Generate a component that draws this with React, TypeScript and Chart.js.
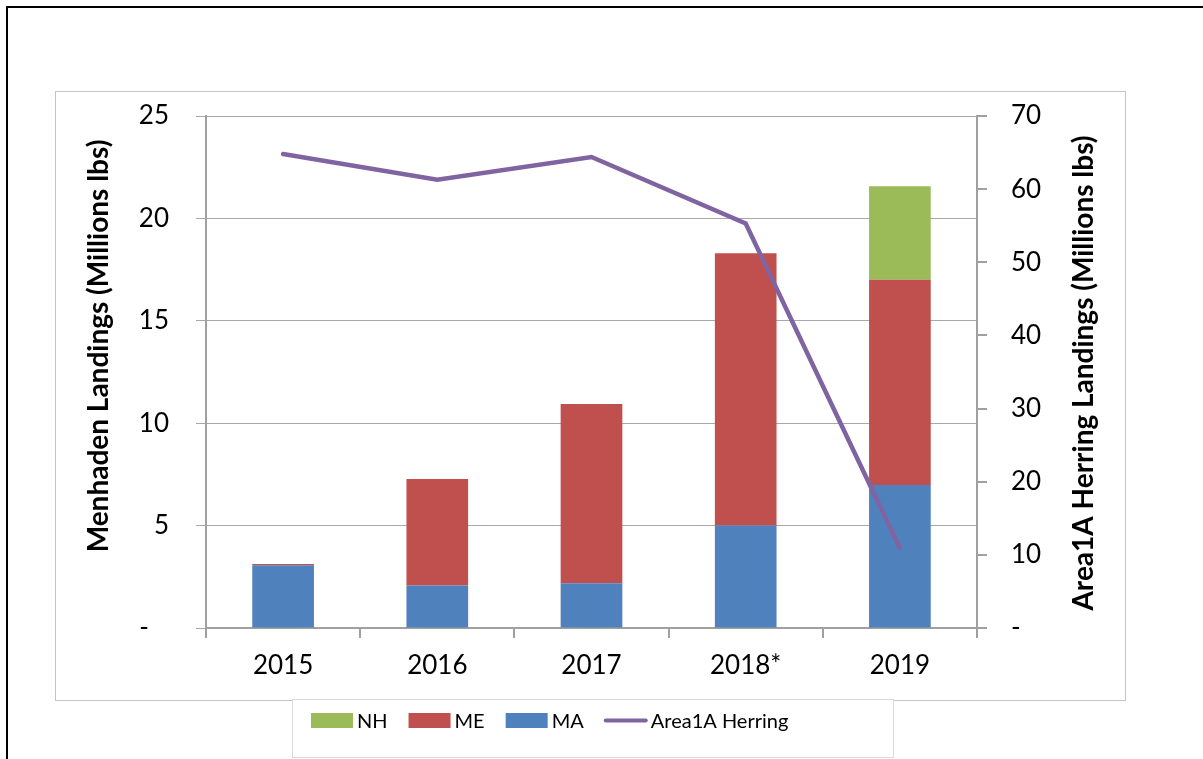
import React, { useEffect, useRef } from "react";
import { Chart, registerables } from "chart.js";

Chart.register(...registerables);

const years = ["2015", "2016", "2017", "2018*", "2019"];
const maValues = [3.06, 2.07, 2.18, 5.0, 6.98];
const meValues = [0.07, 5.21, 8.76, 13.3, 10.02];
const nhValues = [null, null, null, null, 4.57];
const herringValues = [64.8, 61.3, 64.4, 55.3, 10.9];

const leftTitle = "Menhaden Landings (Millions lbs)";
const rightTitle = "Area1A Herring Landings (Millions lbs)";

const FONT = "Lato";
const GRID = "#a8a8a8";
const AXIS = "#a0a0a0";

const decorPlugin = {
  id: "decor",
  afterDraw(chart: any) {
    const ctx = chart.ctx;
    ctx.save();
    ctx.fillStyle = "#000";
    ctx.font = `bold 28px ${FONT}`;
    ctx.textAlign = "center";
    ctx.textBaseline = "alphabetic";
    ctx.save();
    ctx.translate(108, 346);
    ctx.rotate(-Math.PI / 2);
    ctx.fillText(leftTitle, 0, 0);
    ctx.restore();
    ctx.save();
    ctx.translate(1093, 373);
    ctx.rotate(-Math.PI / 2);
    ctx.fillText(rightTitle, 0, 0);
    ctx.restore();

    // legend
    const ds = chart.data.datasets;
    const items = [ds[3], ds[2], ds[1], ds[0]];
    ctx.font = `20px ${FONT}`;
    const markerW = 42;
    const gapText = 4;
    const gapItem = 21;
    let x = 311;
    const cy = 720.5;
    ctx.textAlign = "left";
    ctx.textBaseline = "middle";
    items.forEach((it: any) => {
      if (it.type === "line") {
        ctx.strokeStyle = it.borderColor;
        ctx.lineWidth = 4;
        ctx.lineCap = "round";
        ctx.beginPath();
        ctx.moveTo(x + 1, cy);
        ctx.lineTo(x + markerW - 1, cy);
        ctx.stroke();
      } else {
        ctx.fillStyle = it.backgroundColor;
        ctx.fillRect(x, cy - 7.5, markerW, 15);
      }
      x += markerW + gapText;
      ctx.fillStyle = "#000";
      ctx.fillText(it.label, x, cy + 1);
      x += ctx.measureText(it.label).width + gapItem;
    });
    ctx.restore();
  },
};

export default function App() {
  const ref = useRef<HTMLCanvasElement | null>(null);
  useEffect(() => {
    if (!ref.current) return;
    const chart = new Chart(ref.current, {
      type: "bar",
      data: {
        labels: years,
        datasets: [
          {
            type: "line",
            label: "Area1A Herring",
            data: herringValues,
            yAxisID: "y1",
            borderColor: "#8064A2",
            backgroundColor: "#8064A2",
            borderWidth: 4.5,
            pointRadius: 0,
            tension: 0,
            borderCapStyle: "round",
            order: 0,
          } as any,
          {
            label: "MA",
            data: maValues,
            backgroundColor: "#4F81BD",
            yAxisID: "y",
            order: 1,
            barPercentage: 0.4,
            categoryPercentage: 1,
          },
          {
            label: "ME",
            data: meValues,
            backgroundColor: "#C0504D",
            yAxisID: "y",
            order: 1,
            barPercentage: 0.4,
            categoryPercentage: 1,
          },
          {
            label: "NH",
            data: nhValues,
            backgroundColor: "#9BBB59",
            yAxisID: "y",
            order: 1,
            barPercentage: 0.4,
            categoryPercentage: 1,
          },
        ],
      },
      options: {
        animation: false,
        responsive: true,
        maintainAspectRatio: false,
        layout: { padding: { top: 116, left: 0, right: 0, bottom: 0 } },
        plugins: { legend: { display: false }, tooltip: { enabled: false } },
        scales: {
          x: {
            stacked: true,
            afterFit: (s: any) => {
              s.height = 759 - 628;
            },
            grid: {
              drawOnChartArea: false,
              drawTicks: true,
              tickLength: 10,
              color: AXIS,
              lineWidth: 2,
              offset: true,
            },
            border: { display: true, color: AXIS, width: 2 },
            ticks: {
              color: "#000",
              font: { family: FONT, size: 26 },
              padding: 12,
              maxRotation: 0,
            },
          },
          y: {
            position: "left",
            stacked: true,
            min: 0,
            max: 25,
            afterFit: (s: any) => {
              s.width = 206;
            },
            grid: { color: GRID, lineWidth: 1, tickLength: 10 },
            border: { display: true, color: AXIS, width: 2 },
            ticks: {
              stepSize: 5,
              color: "#000",
              font: { family: FONT, size: 26 },
              padding: 27,
              callback: (v: any) => (v === 0 ? "-   " : String(v)),
            },
          },
          y1: {
            position: "right",
            min: 0,
            max: 70,
            afterFit: (s: any) => {
              s.width = 1203 - 977;
            },
            grid: {
              drawOnChartArea: false,
              color: AXIS,
              lineWidth: 2,
              tickLength: 10,
            },
            border: { display: true, color: AXIS, width: 2 },
            ticks: {
              stepSize: 10,
              color: "#000",
              font: { family: FONT, size: 26 },
              padding: 24,
              callback: (v: any) => (v === 0 ? "-" : String(v)),
            },
          },
        },
      },
      plugins: [decorPlugin],
    });
    return () => chart.destroy();
  }, []);

  return (
    <div
      style={{
        position: "fixed",
        left: 0,
        top: 0,
        width: 1203,
        height: 759,
        background: "#fff",
        overflow: "hidden",
      }}
    >
      <div
        style={{
          position: "absolute",
          left: 6,
          top: 6,
          width: 1400,
          height: 1000,
          borderLeft: "2.5px solid #000",
          borderTop: "2.5px solid #000",
        }}
      />
      <div
        style={{
          position: "absolute",
          left: 55,
          top: 91,
          width: 1069,
          height: 608,
          border: "1px solid #c4c4c4",
          background: "#fff",
        }}
      />
      <div
        style={{
          position: "absolute",
          left: 292,
          top: 699,
          width: 600,
          height: 57,
          border: "1px solid #dadada",
          background: "#fff",
        }}
      />
      <canvas
        ref={ref}
        style={{ position: "absolute", left: 0, top: 0, width: 1203, height: 759 }}
      />
    </div>
  );
}
